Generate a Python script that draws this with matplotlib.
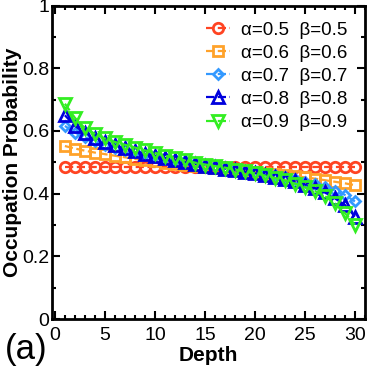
import numpy as np
import matplotlib
matplotlib.use("Agg")
import matplotlib.pyplot as plt
from matplotlib.ticker import MultipleLocator

plt.rcParams['font.family'] = ['Liberation Sans', 'DejaVu Sans']

depth = np.arange(1, 31)

# occupation probability for each (alpha, beta) pair
p05 = [0.486] * 30
p06 = [0.552, 0.544, 0.537, 0.531, 0.526, 0.521, 0.516, 0.511, 0.507, 0.503,
       0.499, 0.495, 0.492, 0.489, 0.486, 0.483, 0.480, 0.477, 0.473, 0.470,
       0.467, 0.463, 0.460, 0.456, 0.452, 0.448, 0.443, 0.438, 0.433, 0.427]
p07 = [0.616, 0.595, 0.580, 0.567, 0.556, 0.547, 0.539, 0.532, 0.526, 0.520,
       0.514, 0.508, 0.503, 0.498, 0.493, 0.488, 0.483, 0.478, 0.473, 0.468,
       0.464, 0.459, 0.453, 0.446, 0.438, 0.430, 0.421, 0.410, 0.396, 0.375]
p08 = [0.650, 0.616, 0.594, 0.579, 0.566, 0.555, 0.545, 0.536, 0.528, 0.521,
       0.514, 0.507, 0.501, 0.495, 0.489, 0.484, 0.480, 0.475, 0.470, 0.465,
       0.460, 0.454, 0.447, 0.439, 0.429, 0.418, 0.404, 0.385, 0.364, 0.327]
p09 = [0.687, 0.642, 0.609, 0.591, 0.576, 0.565, 0.556, 0.547, 0.538, 0.530,
       0.521, 0.514, 0.506, 0.499, 0.493, 0.488, 0.483, 0.477, 0.471, 0.465,
       0.458, 0.450, 0.442, 0.432, 0.421, 0.408, 0.392, 0.369, 0.338, 0.301]

labels = ["\u03b1=0.5  \u03b2=0.5", "\u03b1=0.6  \u03b2=0.6", "\u03b1=0.7  \u03b2=0.7",
          "\u03b1=0.8  \u03b2=0.8", "\u03b1=0.9  \u03b2=0.9"]
colors = ["#FF4422", "#FFA22A", "#3399FF", "#0000DD", "#33EE22"]
markers = ["o", "s", "D", "^", "v"]
sizes = [7.5, 7.5, 5.5, 8, 8]

fig = plt.figure(figsize=(3.68, 3.71), dpi=100)
ax = fig.add_axes([0.141, 0.140, 0.852, 0.845])

for y, lab, c, m, ms in zip([p05, p06, p07, p08, p09], labels, colors, markers, sizes):
    ax.plot(depth, y, ls="--", color=c, lw=1.6, marker=m, ms=ms,
            mfc="none", mec=c, mew=2.0, label=lab)

ax.set_xlim(-0.3, 31.05)
ax.set_ylim(0, 1)
ax.xaxis.set_major_locator(MultipleLocator(5))
ax.xaxis.set_minor_locator(MultipleLocator(1))
ax.yaxis.set_minor_locator(MultipleLocator(0.1))
ax.set_yticks([0, 0.2, 0.4, 0.6, 0.8, 1])
ax.set_yticklabels(["0", "0.2", "0.4", "0.6", "0.8", "1"])
ax.tick_params(which="both", direction="in", top=True, right=True, width=1.5,
               labelsize=14)
ax.tick_params(axis="x", pad=6)
ax.tick_params(axis="y", pad=2)
ax.tick_params(which="major", length=6)
ax.tick_params(which="minor", length=3)
for s in ax.spines.values():
    s.set_linewidth(2)

ax.set_xlabel("Depth", fontsize=15, fontweight="bold", labelpad=1)
ax.set_ylabel("Occupation Probability", fontsize=15, fontweight="bold", labelpad=0)

ax.legend(loc="upper right", frameon=False, fontsize=13.5, labelspacing=0.32,
          handlelength=1.3, handletextpad=0.6, borderaxespad=0,
          bbox_to_anchor=(355 / 368, 1 - 14 / 371), bbox_transform=fig.transFigure)

fig.text(5 / 368, 5 / 371, "(a)", fontsize=25, va="bottom")

fig.savefig("out.png", dpi=100)
